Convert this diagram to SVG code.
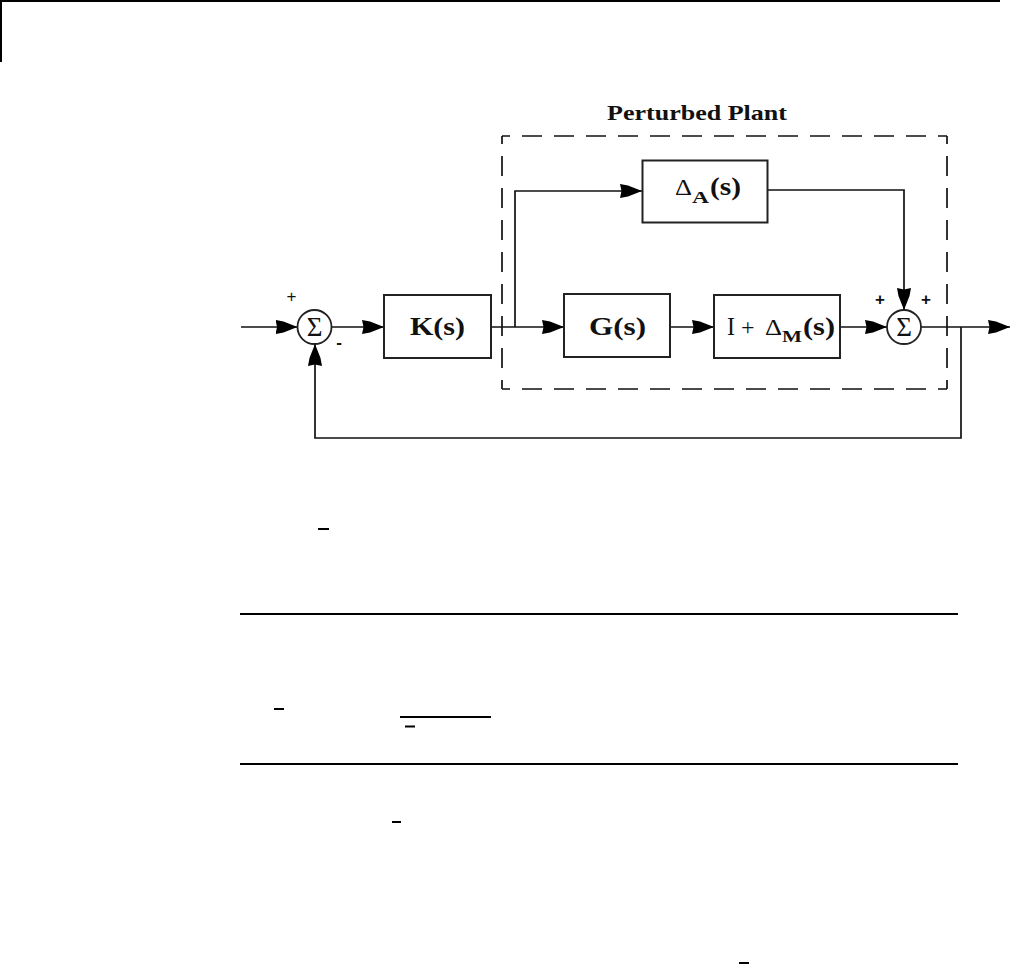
<svg xmlns="http://www.w3.org/2000/svg" width="1012" height="964" viewBox="0 0 1012 964">
<style>
.ln{fill:none;stroke:#111;stroke-width:1.7}
.box{fill:#fff;stroke:#222;stroke-width:2}
.sum{fill:#fff;stroke:#222;stroke-width:1.8}
.dash{fill:none;stroke:#111;stroke-width:1.7;stroke-dasharray:20 12;stroke-dashoffset:12}
.rule{stroke:#000;stroke-width:2}
.t{font-family:"Liberation Serif","DejaVu Serif",serif;fill:#111}
.b{font-weight:bold}
.sg{font-family:"Liberation Sans","DejaVu Sans",sans-serif;fill:#111}
</style>
<defs>
<marker id="ah" markerUnits="userSpaceOnUse" markerWidth="23" markerHeight="16" refX="22" refY="8" orient="auto">
<path d="M0,1 L8,2.5 L22,8 L8,13.5 L0,15 L1.5,8 z" fill="#000"/>
</marker>
</defs>
<rect width="1012" height="964" fill="#fff"/>
<g id="page-frame">
<line class="rule" x1="0" y1="1" x2="1000" y2="1"/>
<line class="rule" x1="1" y1="0" x2="1" y2="62"/>
</g>
<g id="perturbed-plant">
<line class="dash" x1="502" y1="136" x2="947" y2="136"/>
<line class="dash" x1="502" y1="389" x2="947" y2="389"/>
<line class="dash" x1="502" y1="136" x2="502" y2="389"/>
<line class="dash" x1="947" y1="136" x2="947" y2="389"/>
<text class="t b" x="607" y="120" font-size="21" textLength="180" lengthAdjust="spacingAndGlyphs">Perturbed Plant</text>
</g>
<g id="connectors">
<path class="ln" d="M241,327 H297.5" marker-end="url(#ah)"/>
<path class="ln" d="M331.5,327 H384" marker-end="url(#ah)"/>
<path class="ln" d="M491,327 H564" marker-end="url(#ah)"/>
<path class="ln" d="M515,327 V191 H642" marker-end="url(#ah)"/>
<path class="ln" d="M670,327 H714" marker-end="url(#ah)"/>
<path class="ln" d="M840,327 H887" marker-end="url(#ah)"/>
<path class="ln" d="M768,190 H904 V310" marker-end="url(#ah)"/>
<path class="ln" d="M921,327 H1010" marker-end="url(#ah)"/>
<path class="ln" d="M961,327 V438 H315 V344" marker-end="url(#ah)"/>
</g>
<g id="sum1">
<circle class="sum" cx="314.5" cy="327" r="17"/>
<text class="t" x="314.5" y="336" font-size="27" text-anchor="middle">Σ</text>
<text class="sg" x="291.5" y="302" font-size="17" text-anchor="middle">+</text>
<text class="sg b" x="339" y="348" font-size="17" text-anchor="middle">-</text>
</g>
<g id="K">
<rect class="box" x="384" y="295" width="107" height="63"/>
<text class="t b" x="410" y="335" font-size="26" textLength="55" lengthAdjust="spacingAndGlyphs">K(s)</text>
</g>
<g id="G">
<rect class="box" x="564" y="294" width="106" height="63"/>
<text class="t b" x="589" y="335" font-size="26" textLength="57" lengthAdjust="spacingAndGlyphs">G(s)</text>
</g>
<g id="DeltaA">
<rect class="box" x="642.5" y="160.5" width="125" height="62"/>
<text class="t" x="675" y="195" font-size="24" textLength="17" lengthAdjust="spacingAndGlyphs">Δ</text>
<text class="t b" x="692" y="203" font-size="17" textLength="17" lengthAdjust="spacingAndGlyphs">A</text>
<text class="t b" x="710" y="195" font-size="26" textLength="31" lengthAdjust="spacingAndGlyphs">(s)</text>
</g>
<g id="IDeltaM">
<rect class="box" x="714" y="295" width="126" height="63"/>
<text class="t" x="727" y="335" font-size="26" textLength="8" lengthAdjust="spacingAndGlyphs">I</text>
<text class="t" x="741" y="335" font-size="24">+</text>
<text class="t" x="765" y="335" font-size="24" textLength="17" lengthAdjust="spacingAndGlyphs">Δ</text>
<text class="t b" x="782" y="342" font-size="17" textLength="20" lengthAdjust="spacingAndGlyphs">M</text>
<text class="t b" x="803" y="335" font-size="26" textLength="32" lengthAdjust="spacingAndGlyphs">(s)</text>
</g>
<g id="sum2">
<circle class="sum" cx="904" cy="327" r="17"/>
<text class="t" x="904" y="336" font-size="27" text-anchor="middle">Σ</text>
<text class="sg b" x="880" y="305" font-size="17" text-anchor="middle">+</text>
<text class="sg b" x="926" y="305" font-size="17" text-anchor="middle">+</text>
</g>
<g id="page-rules">
<line class="rule" x1="318" y1="529" x2="329" y2="529"/>
<line class="rule" x1="240" y1="614" x2="958" y2="614"/>
<line class="rule" x1="274" y1="709" x2="284" y2="709"/>
<line class="rule" x1="400" y1="717" x2="491" y2="717"/>
<line class="rule" x1="405" y1="726.5" x2="415" y2="726.5"/>
<line class="rule" x1="240" y1="764" x2="958" y2="764"/>
<line class="rule" x1="392" y1="822" x2="401" y2="822"/>
<line class="rule" x1="739" y1="963" x2="749" y2="963"/>
</g>
</svg>
